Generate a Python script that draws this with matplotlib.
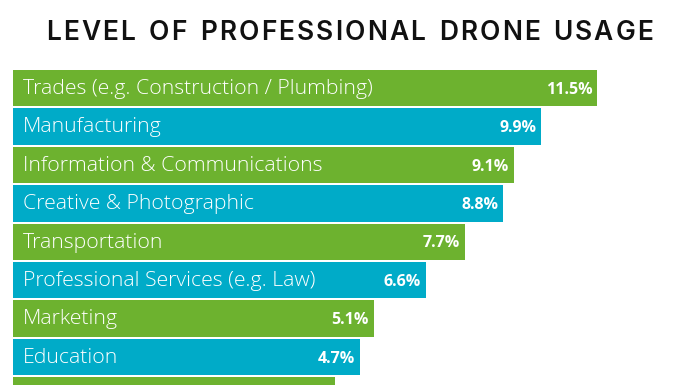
import matplotlib
matplotlib.use("Agg")
import matplotlib.pyplot as plt

# data read from the infographic (last bar is cut off, value estimated)
categories = [
    "Trades (e.g. Construction / Plumbing)",
    "Manufacturing",
    "Information & Communications",
    "Creative & Photographic",
    "Transportation",
    "Professional Services (e.g. Law)",
    "Marketing",
    "Education",
    "Other",
]
values = [11.5, 9.9, 9.1, 8.8, 7.7, 6.6, 5.1, 4.7, 4.0]
value_labels = ["11.5%", "9.9%", "9.1%", "8.8%", "7.7%", "6.6%", "5.1%", "4.7%", "4.0%"]
title = "LEVEL OF PROFESSIONAL DRONE USAGE"

green = "#6db22f"
blue = "#00abc8"
colors = [green if i % 2 == 0 else blue for i in range(len(values))]

# bars in the original don't start at zero, they have an offset
base = 5.2
px = 35.0  # pixels per percent

fig = plt.figure(figsize=(6.96, 3.85), dpi=100)
fig.patch.set_facecolor("white")

# axes from x=13px to right edge, y=50px to bottom
ax = fig.add_axes([13 / 696, 0, 683 / 696, 335 / 385])
ypos = list(range(len(values)))
ax.barh(ypos, [v + base for v in values], left=-base, height=0.95,
        color=colors, edgecolor="none")
ax.set_xlim(-base, -base + 683 / px)
ax.set_ylim(7.73, -0.996)
ax.axis("off")

# last bar is cropped by the frame, its labels are not shown
for i, (cat, v, lab) in enumerate(zip(categories[:-1], values, value_labels)):
    ax.text(-base + 10 / px, i + 0.02, cat, color="white", fontsize=15.3,
            family="Open Sans", fontweight="light", va="center", ha="left")
    ax.text(v - 5 / px, i + 0.04, lab, color="white", fontsize=11.5,
            family="Open Sans", fontweight="bold", va="center", ha="right")

# title with wide letter spacing: place characters one by one
renderer = fig.canvas.get_renderer()
tprops = dict(fontsize=19, fontweight="semibold", family="Inter",
              color="#111111", va="center", ha="left")
widths = []
for ch in title:
    t = fig.text(0, 0, ch if ch != " " else "n", **tprops)
    w = t.get_window_extent(renderer).width
    widths.append(w * (0.55 if ch == " " else 1.0))
    t.remove()
x0, x1 = 46.0, 653.0
gap = (x1 - x0 - sum(widths)) / (len(title) - 1)
x = x0
for ch, w in zip(title, widths):
    if ch != " ":
        fig.text(x / 696, 1 - 33 / 385, ch, **tprops)
    x += w + gap

fig.savefig("out.png", dpi=100)
